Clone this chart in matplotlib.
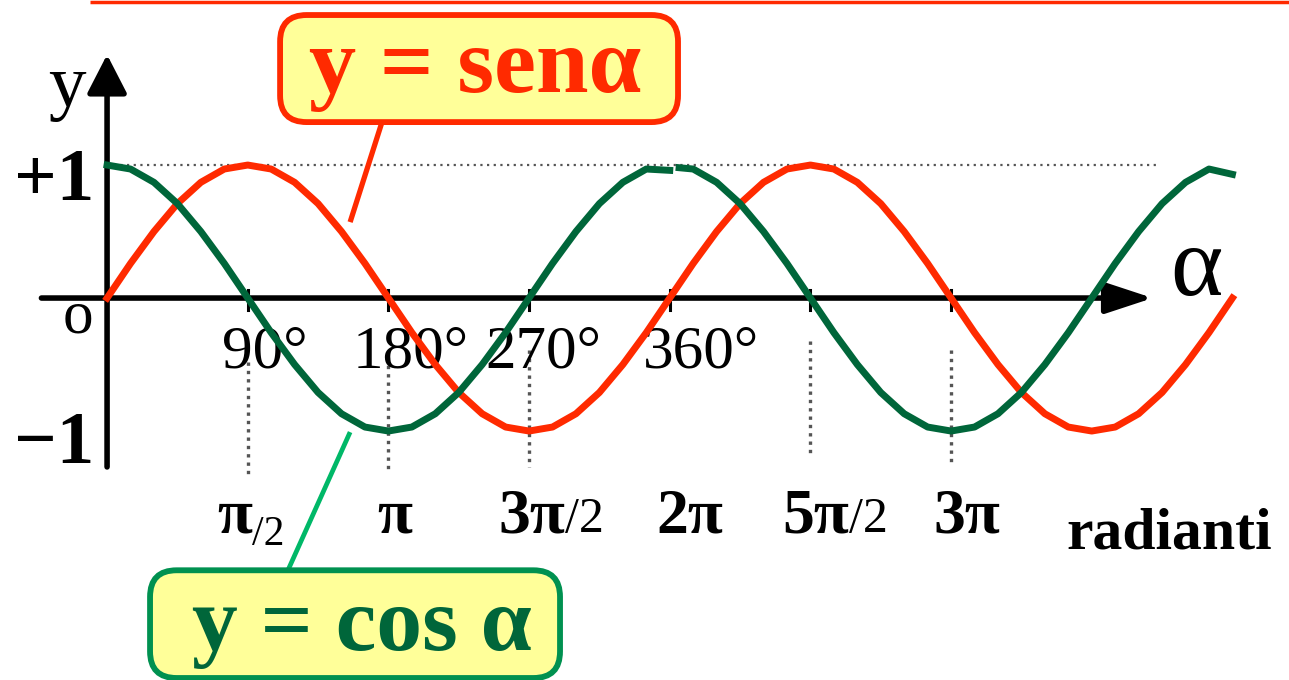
import matplotlib
matplotlib.use('Agg')
import matplotlib.pyplot as plt
from matplotlib.patches import FancyBboxPatch

# angles (degrees) and the values
ang_sen = list(range(0, 721, 15))
sen_vals = [0, 0.26, 0.5, 0.71, 0.87, 0.97, 1, 0.97, 0.87, 0.71, 0.5, 0.26, 0,
            -0.26, -0.5, -0.71, -0.87, -0.97, -1, -0.97, -0.87, -0.71, -0.5, -0.26, 0,
            0.26, 0.5, 0.71, 0.87, 0.97, 1, 0.97, 0.87, 0.71, 0.5, 0.26, 0,
            -0.26, -0.5, -0.71, -0.87, -0.97, -1, -0.97, -0.87, -0.71, -0.5, -0.26, 0]

# cosine is drawn in two pieces (small gap near 360 deg)
ang_cos_a = list(range(0, 361, 15))
cos_vals_a = [1, 0.97, 0.87, 0.71, 0.5, 0.26, 0, -0.26, -0.5, -0.71, -0.87, -0.97, -1,
              -0.97, -0.87, -0.71, -0.5, -0.26, 0, 0.26, 0.5, 0.71, 0.87, 0.97, 0.96]
ang_cos_b = [366] + list(range(375, 721, 15))
cos_vals_b = [0.98, 0.97, 0.87, 0.71, 0.5, 0.26, 0, -0.26, -0.5, -0.71, -0.87, -0.97, -1,
              -0.97, -0.87, -0.71, -0.5, -0.26, 0, 0.26, 0.5, 0.71, 0.87, 0.97, 0.93]

tick_angles = [90, 180, 270, 360, 450, 540]
deg_labels = ['90°', '180°', '270°', '360°']
rad_main = ['π', 'π', '3π', '2π', '5π', '3π']
rad_suffix = ['/2', '', '/2', '', '/2', '']
guide_angles = [90, 180, 270, 450, 540]

RED = '#FF2A00'
DKGREEN = '#00663A'
LTGREEN = '#00B868'
BOXGREEN = '#009150'
YELLOW = '#FFFF99'
SERIF = ['Liberation Serif', 'DejaVu Serif']

fig = plt.figure(figsize=(12.89, 6.8), dpi=100)
ax = fig.add_axes([0, 0, 1, 1])
ax.set_xlim(-68.5, 756.2)
ax.set_ylim(-2.872, 2.241)
ax.axis('off')

# top red rule of the slide
ax.plot([-11, 760], [2.228, 2.228], color=RED, lw=2.5, solid_capstyle='butt')

# dotted guides
ax.plot([0, 671], [1, 1], color='#555555', lw=1.6, ls=(0, (1, 2)))
guide_lo = [-1.35, -1.29, -1.27, -1.18, -1.26]
guide_hi = [-0.48, -0.44, -0.39, -0.32, -0.39]
for a, lo, hi in zip(guide_angles, guide_lo, guide_hi):
    ax.plot([a, a], [hi, lo], color='#555555', lw=2.4, ls=(0, (1, 1.5)))

# axes with arrows
ax.annotate('', xy=(669, 0), xytext=(-42, 0),
            arrowprops=dict(arrowstyle='-|>,head_length=0.85,head_width=0.28',
                            mutation_scale=34, lw=4, color='black', shrinkA=0, shrinkB=0))
ax.annotate('', xy=(0, 1.83), xytext=(0, -1.27),
            arrowprops=dict(arrowstyle='-|>,head_length=0.7,head_width=0.36',
                            mutation_scale=34, lw=4, color='black', shrinkA=0, shrinkB=0))
for a in tick_angles:
    ax.plot([a, a], [0.06, -0.09], color='black', lw=2.2)

# curves
ax.plot(ang_sen, sen_vals, color=RED, lw=5, solid_joinstyle='round', zorder=5)
ax.plot(ang_cos_a, cos_vals_a, color=DKGREEN, lw=5, solid_joinstyle='round', zorder=6)
ax.plot(ang_cos_b, cos_vals_b, color=DKGREEN, lw=5, solid_joinstyle='round', zorder=6)

# axis labels
ax.text(-25.6, 1.58, 'y', family=SERIF, fontsize=54, ha='center', va='center')
ax.text(-34, 0.74, '+1', family=SERIF, fontsize=54, fontweight='bold', ha='center', va='baseline')
ax.text(-34, -1.24, '\u22121', family=SERIF, fontsize=54, fontweight='bold', ha='center', va='baseline')
ax.text(-18.6, -0.15, 'o', family=SERIF, fontsize=44, ha='center', va='center')
ax.text(697, 0.2, 'α', family=SERIF, fontsize=72, ha='center', va='center')

deg_off = [11, 14, 9, 20]
for a, lab, off in zip(tick_angles, deg_labels, deg_off):
    ax.text(a + off, -0.52, lab, family=SERIF, fontsize=44, ha='center', va='baseline')

split_off = [3, 4, 23, 13, 25, 10]
for a, main, suf, off in zip(tick_angles, rad_main, rad_suffix, split_off):
    if suf:
        ax.text(a + off, -1.76, main, family=SERIF, fontsize=46, fontweight='bold',
                ha='right', va='baseline')
        small = 30 if main == 'π' else 36
        dy = -0.1 if main == 'π' else 0
        ax.text(a + off, -1.76 + dy, suf, family=SERIF, fontsize=small, ha='left', va='baseline')
    else:
        ax.text(a + off, -1.76, main, family=SERIF, fontsize=46, fontweight='bold',
                ha='center', va='baseline')
ax.text(613.6, -1.88, 'radianti', family=SERIF, fontsize=43, fontweight='bold',
        ha='left', va='baseline')

# callouts
asp = 1.563 / 133
ax.plot([175.9, 155.5], [1.323, 0.571], color=RED, lw=3.8, solid_capstyle='butt', zorder=4)
ax.plot([115.8, 155.5], [-2.045, -1.008], color=LTGREEN, lw=3.4, solid_capstyle='butt', zorder=4)

ax.add_patch(FancyBboxPatch((110.7, 1.323), 254.6, 0.805,
                            boxstyle='round,pad=0,rounding_size=17', mutation_aspect=asp,
                            fc=YELLOW, ec=RED, lw=4.2, zorder=7))
ax.text(235.4, 1.72, 'y = senα', family=SERIF, fontsize=68, fontweight='bold',
        color=RED, ha='center', va='center', zorder=8)

ax.add_patch(FancyBboxPatch((27.5, -2.857), 262.3, 0.81,
                            boxstyle='round,pad=0,rounding_size=17', mutation_aspect=asp,
                            fc=YELLOW, ec=BOXGREEN, lw=4.2, zorder=7))
ax.text(163, -2.48, 'y = cos α', family=SERIF, fontsize=66, fontweight='bold',
        color=DKGREEN, ha='center', va='center', zorder=8)

fig.savefig('out.png', dpi=100)
